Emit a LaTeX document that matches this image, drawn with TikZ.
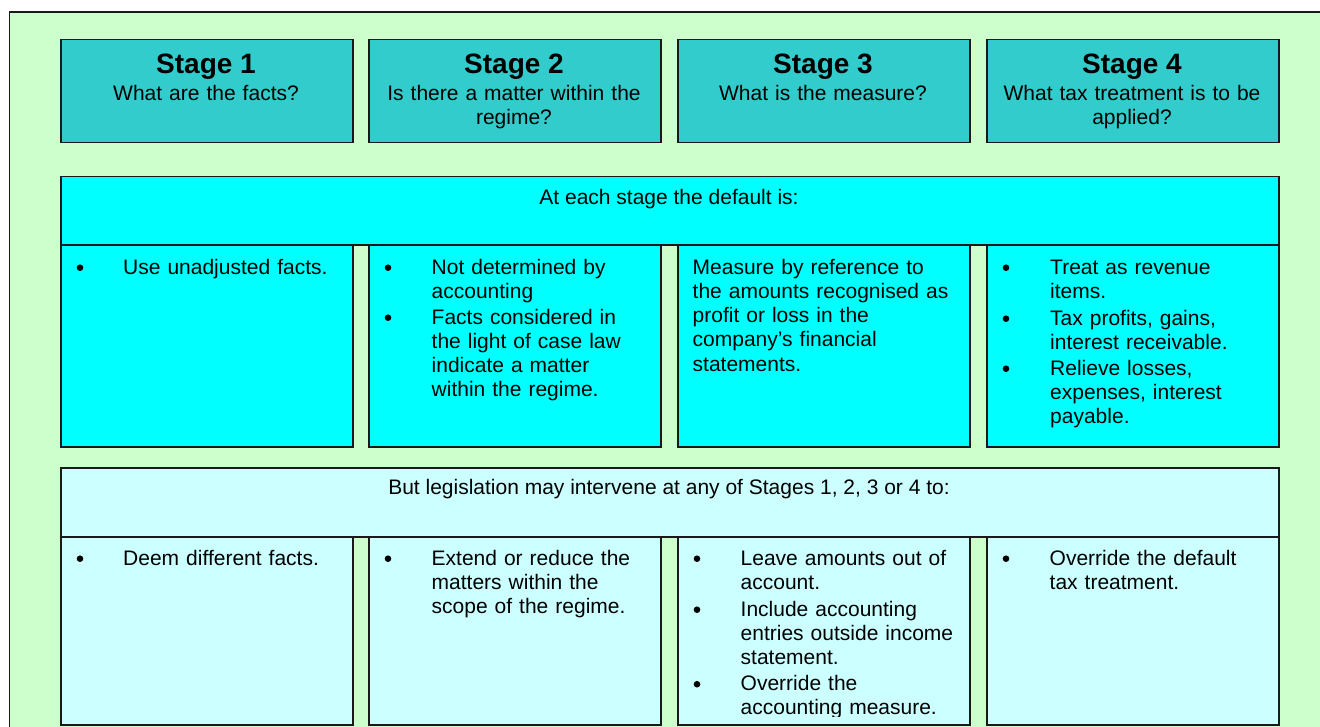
\documentclass[tikz,border=0pt]{standalone}
\usepackage{fontspec}
\setmainfont{Liberation Sans}
\definecolor{frameg}{HTML}{CCFFCC}
\definecolor{stagec}{HTML}{33CCCC}
\definecolor{defc}{HTML}{00FFFF}
\definecolor{legc}{HTML}{CCFFFF}
\begin{document}
\begin{tikzpicture}[x=1pt,y=-1pt,
  box/.style={draw=black!90,line width=1.8pt,rectangle,inner sep=0pt,anchor=north west},
  stagebox/.style={box,fill=stagec,minimum width=292pt,minimum height=103pt},
  defhead/.style={box,fill=defc,minimum width=1218pt,minimum height=68.5pt},
  defcell/.style={box,fill=defc,minimum width=292pt,minimum height=202pt},
  leghead/.style={box,fill=legc,minimum width=1218pt,minimum height=69pt},
  legcell/.style={box,fill=legc,minimum width=292pt,minimum height=188pt},
  txt/.style={inner sep=0pt,font=\fontsize{21}{24.3}\selectfont},
  para/.style={txt,anchor=base west,text width=275pt,align=left},
  bul/.style={circle,fill=black,inner sep=0pt,minimum size=6.6pt,yshift=6.3pt},
  ttl/.style={inner sep=0pt,anchor=base,font=\bfseries\fontsize{28}{30}\selectfont},
  sub/.style={txt,anchor=base,text width=280pt,align=center},
  head/.style={txt,anchor=base},
]
\useasboundingbox (0,0) rectangle (1320,726);
\clip (0,0) rectangle (1320,726);
\fill[white] (0,0) rectangle (1320,726);
\draw[fill=frameg,draw=black!90,line width=1.8pt] (9.5,12) rectangle (1340,760);

% Stage boxes
\node[stagebox] (s1) at (60,38.5) {};
\node[stagebox] (s2) at (368,38.5) {};
\node[stagebox] (s3) at (677,38.5) {};
\node[stagebox] (s4) at (986,38.5) {};
\node[ttl] (s1t) at (206,73.3) {Stage 1};
\node[ttl] (s2t) at (514,73.3) {Stage 2};
\node[ttl] (s3t) at (823,73.3) {Stage 3};
\node[ttl] (s4t) at (1132,73.3) {Stage 4};
\node[sub] (s1q) at (206,100) {What are the facts?};
\node[sub] (s2q) at (514,100) {Is there a matter within the\\regime?};
\node[sub] (s3q) at (823,100) {What is the measure?};
\node[sub] (s4q) at (1132,100) {What tax treatment is to be\\applied?};

% Default section
\node[defcell] (d1) at (60,244) {};
\node[defcell] (d2) at (368,244) {};
\node[defcell] (d3) at (677,244) {};
\node[defcell] (d4) at (986,244) {};
\node[defhead] (dh) at (60,175.5) {};
\node[head] (dht) at (669,204) {At each stage the default is:};

\node[bul] (d1b1) at (80,274) {};
\node[para] (d1p1) at (123,274) {Use unadjusted facts.};

\node[bul] (d2b1) at (388,274) {};
\node[para] (d2p1) at (431.5,274) {Not determined by\\accounting};
\node[bul] (d2b2) at (388,324) {};
\node[para] (d2p2) at (431.5,324) {Facts considered in\\the light of case law\\indicate a matter\\within the regime.};

\node[para] (d3p1) at (692.5,274) {Measure by reference to\\the amounts recognised as\\profit or loss in the\\company’s financial\\statements.};

\node[bul] (d4b1) at (1006,274) {};
\node[para] (d4p1) at (1050,274) {Treat as revenue\\items.};
\node[bul] (d4b2) at (1006,325) {};
\node[para] (d4p2) at (1050,325) {Tax profits, gains,\\interest receivable.};
\node[bul] (d4b3) at (1006,375) {};
\node[para] (d4p3) at (1050,375) {Relieve losses,\\expenses, interest\\payable.};

% Legislation section
\node[legcell] (l1) at (60,536) {};
\node[legcell] (l2) at (368,536) {};
\node[legcell] (l3) at (677,536) {};
\node[legcell] (l4) at (986,536) {};
\node[leghead] (lh) at (60,467) {};
\node[head] (lht) at (669,494) {But legislation may intervene at any of Stages 1, 2, 3 or 4 to:};

\node[bul] (l1b1) at (80,565) {};
\node[para] (l1p1) at (123,565) {Deem different facts.};

\node[bul] (l2b1) at (388,565) {};
\node[para] (l2p1) at (431.5,565) {Extend or reduce the\\matters within the\\scope of the regime.};

\begin{scope}
\clip (677,536) rectangle (969,716);
\node[bul] (l3b1) at (697,565) {};
\node[para] (l3p1) at (740.5,565) {Leave amounts out of\\account.};
\node[bul] (l3b2) at (697,616) {};
\node[para] (l3p2) at (740.5,616) {Include accounting\\entries outside income\\statement.};
\node[bul] (l3b3) at (697,690.5) {};
\node[para] (l3p3) at (740.5,690.5) {Override the\\accounting measure.};
\end{scope}

\node[bul] (l4b1) at (1006,565) {};
\node[para] (l4p1) at (1049.5,565) {Override the default\\tax treatment.};
\end{tikzpicture}
\end{document}
